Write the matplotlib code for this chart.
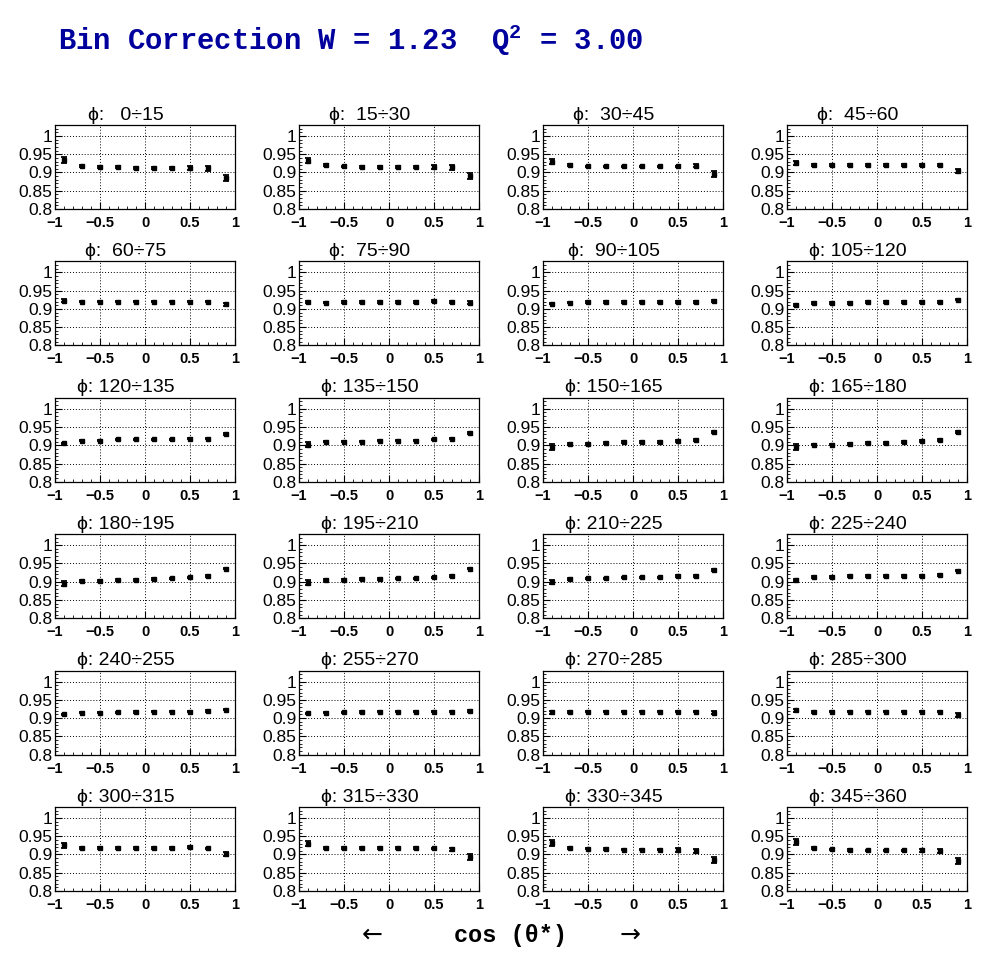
# Bin correction factors vs cos(theta*) in 24 phi bins, W = 1.23, Q^2 = 3.00
import numpy as np
import matplotlib.pyplot as plt
from matplotlib.ticker import MultipleLocator

plt.rcParams['font.family'] = ['Liberation Sans', 'DejaVu Sans']

# bin centres in cos(theta*)
cos_theta = [-0.9, -0.7, -0.5, -0.3, -0.1, 0.1, 0.3, 0.5, 0.7, 0.9]

# phi bin edges (deg)
phi_lo = [0, 15, 30, 45, 60, 75, 90, 105, 120, 135, 150, 165,
          180, 195, 210, 225, 240, 255, 270, 285, 300, 315, 330, 345]
phi_hi = [15, 30, 45, 60, 75, 90, 105, 120, 135, 150, 165, 180,
          195, 210, 225, 240, 255, 270, 285, 300, 315, 330, 345, 360]

corr = [
    [0.935, 0.918, 0.915, 0.915, 0.912, 0.912, 0.912, 0.913, 0.912, 0.885],
    [0.932, 0.920, 0.917, 0.915, 0.915, 0.915, 0.915, 0.915, 0.914, 0.890],
    [0.929, 0.920, 0.917, 0.917, 0.917, 0.917, 0.917, 0.917, 0.918, 0.895],
    [0.926, 0.920, 0.920, 0.920, 0.920, 0.920, 0.920, 0.920, 0.920, 0.904],
    [0.922, 0.920, 0.920, 0.920, 0.920, 0.920, 0.920, 0.920, 0.920, 0.912],
    [0.918, 0.917, 0.919, 0.919, 0.919, 0.919, 0.919, 0.922, 0.919, 0.917],
    [0.914, 0.917, 0.919, 0.919, 0.919, 0.919, 0.919, 0.919, 0.919, 0.922],
    [0.911, 0.916, 0.916, 0.916, 0.919, 0.919, 0.919, 0.919, 0.919, 0.925],
    [0.905, 0.913, 0.913, 0.916, 0.916, 0.916, 0.916, 0.918, 0.918, 0.931],
    [0.902, 0.910, 0.910, 0.910, 0.913, 0.913, 0.913, 0.916, 0.918, 0.933],
    [0.896, 0.904, 0.904, 0.906, 0.909, 0.909, 0.909, 0.912, 0.915, 0.936],
    [0.895, 0.902, 0.902, 0.904, 0.906, 0.906, 0.909, 0.912, 0.915, 0.936],
    [0.895, 0.902, 0.902, 0.904, 0.904, 0.907, 0.909, 0.912, 0.915, 0.936],
    [0.897, 0.904, 0.904, 0.907, 0.907, 0.909, 0.909, 0.912, 0.915, 0.936],
    [0.900, 0.907, 0.909, 0.909, 0.912, 0.912, 0.912, 0.915, 0.915, 0.932],
    [0.905, 0.913, 0.913, 0.916, 0.916, 0.916, 0.916, 0.916, 0.918, 0.930],
    [0.910, 0.915, 0.915, 0.916, 0.917, 0.918, 0.918, 0.918, 0.920, 0.923],
    [0.913, 0.915, 0.916, 0.917, 0.918, 0.918, 0.918, 0.918, 0.918, 0.920],
    [0.916, 0.917, 0.918, 0.918, 0.918, 0.918, 0.918, 0.918, 0.918, 0.915],
    [0.921, 0.917, 0.918, 0.918, 0.918, 0.918, 0.918, 0.918, 0.918, 0.908],
    [0.925, 0.918, 0.918, 0.918, 0.918, 0.918, 0.918, 0.920, 0.917, 0.902],
    [0.930, 0.918, 0.918, 0.918, 0.918, 0.918, 0.918, 0.917, 0.914, 0.893],
    [0.932, 0.918, 0.916, 0.915, 0.913, 0.913, 0.913, 0.913, 0.910, 0.886],
    [0.934, 0.918, 0.914, 0.912, 0.911, 0.911, 0.911, 0.911, 0.910, 0.883],
]

corr_err = [
    [0.008, 0.002, 0.002, 0.002, 0.002, 0.002, 0.002, 0.006, 0.007, 0.009],
    [0.007, 0.002, 0.002, 0.002, 0.002, 0.002, 0.002, 0.005, 0.006, 0.008],
    [0.007, 0.002, 0.002, 0.002, 0.002, 0.002, 0.002, 0.002, 0.004, 0.008],
    [0.006, 0.002, 0.002, 0.002, 0.002, 0.002, 0.002, 0.002, 0.002, 0.005],
    [0.004, 0.002, 0.002, 0.002, 0.002, 0.002, 0.002, 0.002, 0.002, 0.005],
    [0.003, 0.002, 0.002, 0.002, 0.002, 0.002, 0.002, 0.002, 0.002, 0.004],
    [0.002, 0.002, 0.002, 0.002, 0.002, 0.002, 0.002, 0.002, 0.002, 0.002],
    [0.002, 0.002, 0.002, 0.002, 0.002, 0.002, 0.002, 0.002, 0.002, 0.002],
    [0.002, 0.002, 0.002, 0.002, 0.002, 0.002, 0.002, 0.002, 0.002, 0.002],
    [0.006, 0.002, 0.002, 0.002, 0.002, 0.002, 0.002, 0.002, 0.002, 0.002],
    [0.008, 0.002, 0.002, 0.002, 0.002, 0.002, 0.002, 0.002, 0.002, 0.002],
    [0.009, 0.002, 0.002, 0.002, 0.002, 0.002, 0.002, 0.002, 0.002, 0.002],
    [0.008, 0.002, 0.002, 0.002, 0.002, 0.002, 0.002, 0.002, 0.002, 0.002],
    [0.007, 0.002, 0.002, 0.002, 0.002, 0.002, 0.002, 0.002, 0.002, 0.002],
    [0.005, 0.002, 0.002, 0.002, 0.002, 0.002, 0.002, 0.002, 0.002, 0.002],
    [0.002, 0.002, 0.002, 0.002, 0.002, 0.002, 0.002, 0.002, 0.002, 0.002],
    [0.002, 0.002, 0.002, 0.002, 0.002, 0.002, 0.002, 0.002, 0.002, 0.002],
    [0.002, 0.002, 0.002, 0.002, 0.002, 0.002, 0.002, 0.002, 0.002, 0.002],
    [0.004, 0.002, 0.002, 0.002, 0.002, 0.002, 0.002, 0.002, 0.002, 0.004],
    [0.005, 0.002, 0.002, 0.002, 0.002, 0.002, 0.002, 0.002, 0.002, 0.005],
    [0.006, 0.002, 0.002, 0.002, 0.002, 0.002, 0.002, 0.002, 0.002, 0.006],
    [0.007, 0.002, 0.002, 0.002, 0.002, 0.002, 0.002, 0.002, 0.005, 0.007],
    [0.008, 0.002, 0.002, 0.002, 0.002, 0.002, 0.002, 0.005, 0.006, 0.008],
    [0.008, 0.002, 0.002, 0.002, 0.002, 0.002, 0.002, 0.005, 0.006, 0.008],
]

W, H = 996, 972
fig = plt.figure(figsize=(W / 100, H / 100), dpi=100)

ax_w, ax_h = 180, 84
for i in range(len(phi_lo)):
    r, c = divmod(i, 4)
    left = 55 + 244 * c
    top = 125 + 136.4 * r
    ax = fig.add_axes([left / W, 1 - (top + ax_h) / H, ax_w / W, ax_h / H])
    ax.errorbar(cos_theta, corr[i], yerr=corr_err[i], fmt='s', color='black',
                ms=3.3, elinewidth=1.3, capsize=2.2, capthick=1.3)
    ax.set_xlim(-1, 1)
    ax.set_ylim(0.8, 1.03)
    ax.xaxis.set_minor_locator(MultipleLocator(0.1))
    ax.yaxis.set_minor_locator(MultipleLocator(0.01))
    ax.set_yticks([0.8, 0.85, 0.9, 0.95, 1.0])
    ax.set_yticklabels(['0.8', '0.85', '0.9', '0.95', '1'])
    ax.set_xticks([-1, -0.5, 0, 0.5, 1])
    ax.set_xticklabels(['−1', '−0.5', '0', '0.5', '1'])
    ax.grid(True, which='major', color='black', linestyle=(0, (1, 2)), linewidth=0.7)
    ax.tick_params(which='both', direction='in', top=False, right=False)
    ax.tick_params(which='major', length=5, width=0.8)
    ax.tick_params(which='minor', length=2.5, width=0.6)
    ax.tick_params(axis='y', labelsize=12.5, pad=2)
    ax.tick_params(axis='x', labelsize=10.5, pad=5)
    for t in ax.get_xticklabels():
        t.set_fontweight('bold')
    for s in ax.spines.values():
        s.set_linewidth(0.9)
    # title centred over the whole pad (incl. left margin)
    pad_cx = (left - 55 + 244 / 2 + 4) / W
    fig.text(pad_cx, 1 - (top - 10) / H, f'ϕ: {phi_lo[i]:3d}÷{phi_hi[i]}',
             ha='center', va='center', fontsize=14)

fig.text(58 / W, 1 - 40 / H, r'Bin Correction W = 1.23  Q$^{\mathregular{2}}$ = 3.00',
         family='Liberation Mono', fontweight='bold', fontsize=20.8,
         color='#00009c', ha='left', va='center')

fig.text(372 / W, 1 - 935 / H, '←', fontsize=18, ha='center', va='center',
         family=['DejaVu Sans'])
fig.text(630 / W, 1 - 935 / H, '→', fontsize=18, ha='center', va='center',
         family=['DejaVu Sans'])
fig.text(510 / W, 1 - 935 / H, 'cos (θ*)', fontsize=17, fontweight='bold',
         family=['Liberation Mono', 'DejaVu Sans'], ha='center', va='center')

fig.savefig('out.png', dpi=100)
